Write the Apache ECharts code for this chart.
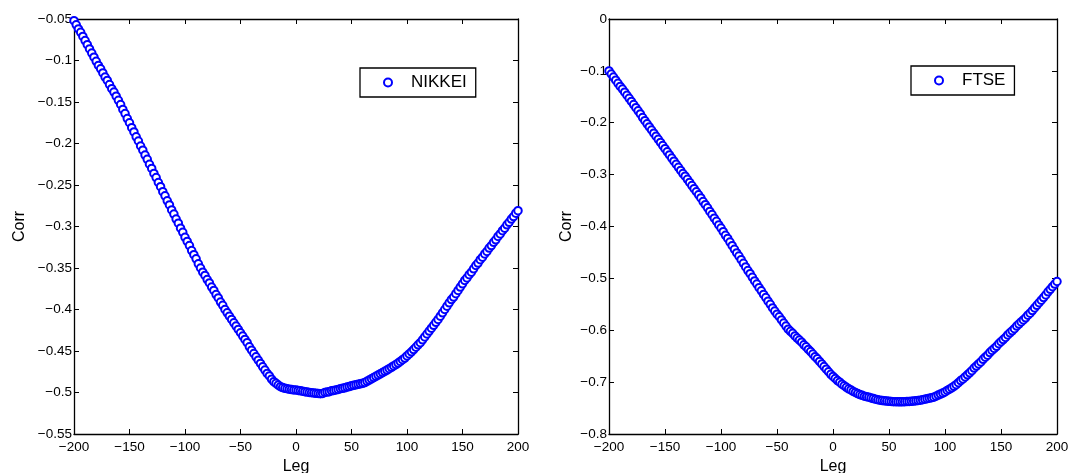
<!DOCTYPE html>
<html>
<head>
<meta charset="utf-8">
<script src="https://cdn.jsdelivr.net/npm/echarts@6/dist/echarts.min.js"></script>
<style>
html,body{margin:0;padding:0;background:#fff;}
#c{width:1072px;height:473px;}
</style>
</head>
<body>
<div id="c"></div>
<script>
// Leg values (shared x positions of both panels)
var legs = [-200,-198,-196,-194,-192,-190,-188,-186,-184,-182,-180,-178,-176,-174,-172,-170,-168,-166,-164,-162,
-160,-158,-156,-154,-152,-150,-148,-146,-144,-142,-140,-138,-136,-134,-132,-130,-128,-126,-124,-122,
-120,-118,-116,-114,-112,-110,-108,-106,-104,-102,-100,-98,-96,-94,-92,-90,-88,-86,-84,-82,
-80,-78,-76,-74,-72,-70,-68,-66,-64,-62,-60,-58,-56,-54,-52,-50,-48,-46,-44,-42,
-40,-38,-36,-34,-32,-30,-28,-26,-24,-22,-20,-18,-16,-14,-12,-10,-8,-6,-4,-2,
0,2,4,6,8,10,12,14,16,18,20,22,24,26,28,30,32,34,36,38,
40,42,44,46,48,50,52,54,56,58,60,62,64,66,68,70,72,74,76,78,
80,82,84,86,88,90,92,94,96,98,100,102,104,106,108,110,112,114,116,118,
120,122,124,126,128,130,132,134,136,138,140,142,144,146,148,150,152,154,156,158,
160,162,164,166,168,170,172,174,176,178,180,182,184,186,188,190,192,194,196,198,200];

// NIKKEI correlation per leg
var nikkei = [-0.052,-0.057,-0.062,-0.066,-0.071,-0.076,-0.081,-0.086,-0.091,-0.096,
-0.101,-0.106,-0.110,-0.115,-0.120,-0.124,-0.129,-0.134,-0.138,-0.143,
-0.148,-0.153,-0.159,-0.164,-0.170,-0.175,-0.181,-0.186,-0.192,-0.197,
-0.203,-0.208,-0.214,-0.219,-0.225,-0.230,-0.236,-0.241,-0.247,-0.252,
-0.258,-0.263,-0.269,-0.274,-0.280,-0.285,-0.291,-0.296,-0.302,-0.307,
-0.313,-0.318,-0.323,-0.329,-0.334,-0.339,-0.345,-0.350,-0.355,-0.359,
-0.364,-0.368,-0.373,-0.377,-0.382,-0.386,-0.391,-0.395,-0.400,-0.404,
-0.408,-0.412,-0.416,-0.420,-0.424,-0.428,-0.432,-0.436,-0.440,-0.445,
-0.449,-0.453,-0.457,-0.461,-0.465,-0.469,-0.473,-0.477,-0.480,-0.484,
-0.487,-0.489,-0.491,-0.493,-0.494,-0.495,-0.4955,-0.496,-0.4965,-0.497,
-0.497,-0.4975,-0.498,-0.4985,-0.499,-0.4995,-0.500,-0.5003,-0.5006,-0.501,
-0.5012,-0.5015,-0.5012,-0.500,-0.4995,-0.499,-0.498,-0.4975,-0.497,-0.4963,
-0.4955,-0.495,-0.4943,-0.4935,-0.4928,-0.492,-0.4914,-0.4908,-0.4902,-0.4896,
-0.489,-0.488,-0.4865,-0.485,-0.4835,-0.482,-0.4805,-0.479,-0.4775,-0.476,
-0.4745,-0.473,-0.4713,-0.4697,-0.468,-0.4663,-0.4645,-0.4625,-0.4605,-0.4585,
-0.456,-0.4535,-0.451,-0.4483,-0.4455,-0.4425,-0.440,-0.4365,-0.433,-0.4295,
-0.426,-0.4225,-0.419,-0.4155,-0.412,-0.408,-0.404,-0.400,-0.396,-0.392,
-0.388,-0.385,-0.381,-0.377,-0.373,-0.369,-0.365,-0.362,-0.358,-0.355,
-0.351,-0.347,-0.344,-0.340,-0.337,-0.333,-0.330,-0.326,-0.323,-0.319,
-0.316,-0.312,-0.309,-0.305,-0.302,-0.298,-0.295,-0.291,-0.288,-0.284,-0.281];

// FTSE correlation per leg
var ftse = [-0.100,-0.106,-0.112,-0.118,-0.124,-0.130,-0.135,-0.141,-0.147,-0.153,
-0.159,-0.165,-0.171,-0.177,-0.183,-0.190,-0.196,-0.202,-0.208,-0.214,
-0.220,-0.226,-0.232,-0.238,-0.244,-0.250,-0.256,-0.262,-0.268,-0.274,
-0.280,-0.286,-0.292,-0.298,-0.303,-0.309,-0.315,-0.321,-0.327,-0.333,
-0.339,-0.345,-0.352,-0.358,-0.364,-0.371,-0.377,-0.384,-0.390,-0.397,
-0.403,-0.410,-0.417,-0.423,-0.430,-0.437,-0.444,-0.451,-0.457,-0.464,
-0.471,-0.478,-0.485,-0.491,-0.498,-0.505,-0.511,-0.518,-0.524,-0.531,
-0.537,-0.544,-0.550,-0.557,-0.563,-0.569,-0.574,-0.580,-0.586,-0.592,
-0.598,-0.602,-0.606,-0.611,-0.615,-0.619,-0.623,-0.628,-0.632,-0.637,
-0.641,-0.646,-0.651,-0.655,-0.660,-0.665,-0.670,-0.675,-0.680,-0.685,
-0.689,-0.693,-0.697,-0.700,-0.704,-0.707,-0.710,-0.713,-0.715,-0.718,
-0.720,-0.722,-0.724,-0.7255,-0.727,-0.728,-0.729,-0.7305,-0.7318,-0.733,
-0.734,-0.7348,-0.7355,-0.736,-0.7365,-0.737,-0.7373,-0.7376,-0.7378,-0.738,
-0.738,-0.738,-0.7378,-0.7375,-0.7372,-0.737,-0.7365,-0.736,-0.7353,-0.7347,
-0.734,-0.733,-0.732,-0.731,-0.730,-0.729,-0.727,-0.725,-0.723,-0.721,
-0.719,-0.716,-0.7135,-0.711,-0.708,-0.705,-0.701,-0.697,-0.694,-0.690,
-0.686,-0.682,-0.678,-0.673,-0.669,-0.665,-0.661,-0.656,-0.652,-0.648,
-0.643,-0.639,-0.635,-0.631,-0.626,-0.622,-0.618,-0.614,-0.609,-0.605,
-0.601,-0.597,-0.592,-0.588,-0.584,-0.580,-0.576,-0.571,-0.567,-0.562,
-0.557,-0.552,-0.547,-0.542,-0.537,-0.532,-0.526,-0.521,-0.516,-0.511,-0.506];

var seriesNames = ['NIKKEI', 'FTSE'];
var xLabel = 'Leg';
var yLabel = 'Corr';

function pairs(ys) {
  var out = [];
  for (var i = 0; i < legs.length; i++) out.push([legs[i], ys[i]]);
  return out;
}
function fmt(v) {
  var s = String(parseFloat(v.toFixed(4)));
  return s.replace('-', '\u2212');
}

var FONT = 'Liberation Sans';
var grids = [
  {left: 74, top: 19, width: 444, height: 415, outerBoundsMode: 'none', containLabel: false},
  {left: 609, top: 19, width: 448, height: 415, outerBoundsMode: 'none', containLabel: false}
];
var yRanges = [
  {min: -0.55, max: -0.05, interval: 0.05, gap: 46},
  {min: -0.8, max: 0, interval: 0.1, gap: 34}
];

var xAxes = [], yAxes = [];
for (var g = 0; g < 2; g++) {
  var common = {
    gridIndex: g,
    axisLine: {show: true, onZero: false, lineStyle: {color: '#000', width: 1.3}},
    axisTick: {show: true, inside: true, length: 5, lineStyle: {color: '#000', width: 1}},
    splitLine: {show: false}
  };
  xAxes.push(Object.assign({}, common, {
    type: 'value', position: 'bottom', min: -200, max: 200, interval: 50,
    name: xLabel, nameLocation: 'middle', nameGap: 19,
    nameTextStyle: {fontFamily: FONT, fontSize: 16, color: '#000', verticalAlign: 'top'},
    axisLabel: {fontFamily: FONT, fontSize: 13.5, color: '#000', margin: 6, formatter: fmt}
  }));
  xAxes.push(Object.assign({}, common, {
    type: 'value', position: 'top', min: -200, max: 200, interval: 50,
    axisLabel: {show: false}
  }));
  yAxes.push(Object.assign({}, common, {
    type: 'value', position: 'left', min: yRanges[g].min, max: yRanges[g].max, interval: yRanges[g].interval,
    name: yLabel, nameLocation: 'middle', nameGap: yRanges[g].gap,
    nameTextStyle: {fontFamily: FONT, fontSize: 16, color: '#000'},
    axisLabel: {fontFamily: FONT, fontSize: 13.5, color: '#000', margin: 2, formatter: fmt}
  }));
  yAxes.push(Object.assign({}, common, {
    type: 'value', position: 'right', min: yRanges[g].min, max: yRanges[g].max, interval: yRanges[g].interval,
    axisLabel: {show: false}
  }));
}

var legendBase = {
  orient: 'vertical',
  backgroundColor: '#fff',
  borderColor: '#000',
  borderWidth: 1.3,
  borderRadius: 0,
  itemWidth: 8,
  itemHeight: 8,
  icon: 'emptyCircle',
  selectedMode: false,
  textStyle: {fontFamily: FONT, fontSize: 17, color: '#000', padding: [0, 0, 0, 14]}
};
var legends = [
  Object.assign({}, legendBase, {left: 360, top: 68, padding: [6, 9, 6, 23], data: [seriesNames[0]]}),
  Object.assign({}, legendBase, {left: 911, top: 66, padding: [6, 9, 6, 23], data: [seriesNames[1]]})
];

var markStyle = {color: '#0000ff', borderColor: '#0000ff', borderWidth: 1.5, opacity: 1};

var chart = echarts.init(document.getElementById('c'), null, {renderer: 'canvas'});
chart.setOption({
  animation: false,
  backgroundColor: '#fff',
  grid: grids,
  xAxis: xAxes,
  yAxis: yAxes,
  legend: legends,
  series: [
    {name: seriesNames[0], type: 'scatter', xAxisIndex: 0, yAxisIndex: 0,
     symbol: 'emptyCircle', symbolSize: 7.5, itemStyle: markStyle,
     data: pairs(nikkei)},
    {name: seriesNames[1], type: 'scatter', xAxisIndex: 2, yAxisIndex: 2,
     symbol: 'emptyCircle', symbolSize: 7.5, itemStyle: markStyle,
     data: pairs(ftse)}
  ]
});
</script>
</body>
</html>
